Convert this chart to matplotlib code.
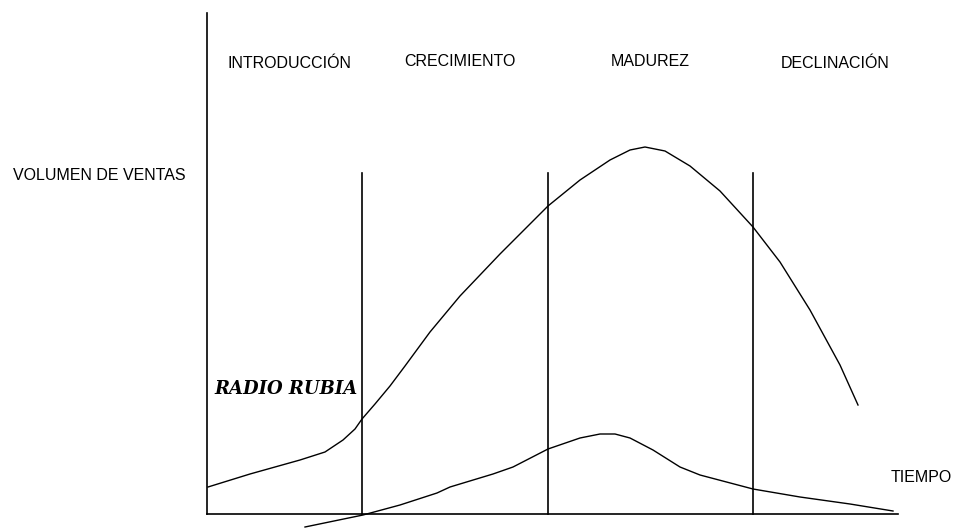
import matplotlib
matplotlib.use('Agg')
import matplotlib.pyplot as plt

# curves (x = tiempo, y = volumen, picture units, y grows downward)
ventas_x = [208, 250, 300, 325, 343, 355, 362, 375, 390, 405, 430, 460, 500, 548, 580, 610, 630, 645, 665, 690, 720, 753, 780, 810, 840, 858]
ventas_y = [487, 474, 460, 452, 440, 429, 419, 404, 386, 366, 332, 296, 254, 206, 180, 160, 150, 147, 151, 166, 191, 227, 262, 310, 365, 405]

otra_x = [305, 363, 400, 437, 450, 493, 513, 548, 580, 600, 615, 630, 653, 680, 700, 753, 800, 850, 893]
otra_y = [527, 515, 505, 493, 487, 474, 467, 449, 438, 434, 434, 438, 450, 467, 475, 489, 497, 504, 511]

etapas = ['INTRODUCCIÓN', 'CRECIMIENTO', 'MADUREZ', 'DECLINACIÓN']
etapa_x = [289, 460, 650, 835]
etapa_y = [64, 62, 62, 64]
limites = [362, 548, 753]

font = ['Liberation Sans', 'DejaVu Sans']

fig = plt.figure(figsize=(9.54, 5.28), dpi=100)
ax = fig.add_axes([0, 0, 1, 1])
ax.set_xlim(0, 954)
ax.set_ylim(528, 0)
ax.axis('off')

# axes of the drawing
ax.plot([207, 207], [13, 514], color='black', lw=1.2)
ax.plot([207, 898], [514, 514], color='black', lw=1.2)
for x in limites:
    ax.plot([x, x], [173, 514], color='black', lw=1.2)

ax.plot(ventas_x, ventas_y, color='black', lw=1.0)
ax.plot(otra_x, otra_y, color='black', lw=1.0)

for name, x, y in zip(etapas, etapa_x, etapa_y):
    ax.text(x, y, name, ha='center', va='center', fontsize=11.5, family=font)

ax.text(13, 176, 'VOLUMEN DE VENTAS', ha='left', va='center', fontsize=11.5, family=font)
ax.text(921, 477, 'TIEMPO', ha='center', va='center', fontsize=11.5, family=font)
ax.text(286, 389, 'RADIO RUBIA', ha='center', va='center', fontsize=13,
        fontweight='bold', fontstyle='italic', family=['DejaVu Serif'])

fig.savefig('out.png', dpi=100)
